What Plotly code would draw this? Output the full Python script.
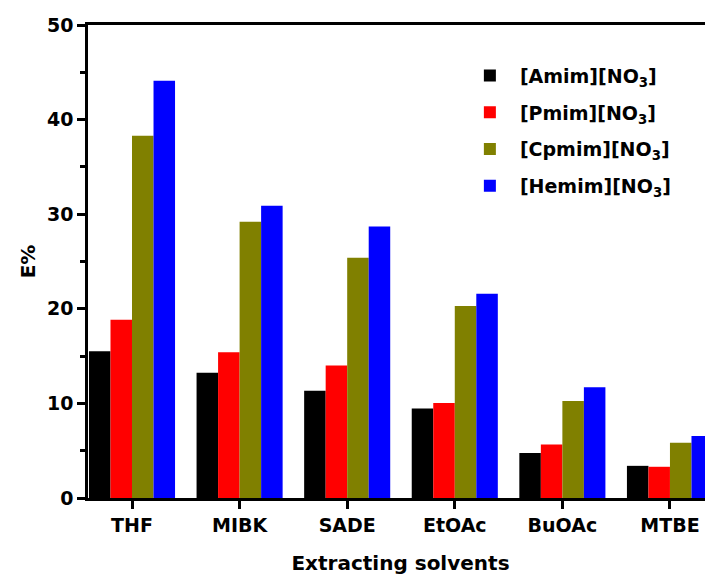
import plotly.graph_objects as go

solvents = ["THF", "MIBK", "SADE", "EtOAc", "BuOAc", "MTBE"]
series_names = ["[Amim][NO<sub>3</sub>]", "[Pmim][NO<sub>3</sub>]",
                "[Cpmim][NO<sub>3</sub>]", "[Hemim][NO<sub>3</sub>]"]
amim = [15.5, 13.25, 11.35, 9.45, 4.75, 3.4]
pmim = [18.85, 15.4, 14.0, 10.05, 5.65, 3.3]
cpmim = [38.3, 29.2, 25.4, 20.3, 10.25, 5.85]
hemim = [44.1, 30.9, 28.7, 21.6, 11.7, 6.55]
colors = ["#000000", "#FF0000", "#808000", "#0000FF"]
y_ticks = [0, 10, 20, 30, 40, 50]

font_family = "DejaVu Sans, Liberation Sans, Arial, sans-serif"

fig = go.Figure()
for i, (name, vals, col) in enumerate(zip(series_names, [amim, pmim, cpmim, hemim], colors)):
    fig.add_trace(go.Bar(x=solvents, y=vals, name=name, legendgroup="g%d" % i,
                         marker=dict(color=col, line=dict(width=0))))

# page body has an 8px default margin, so the figure is sized 705x571
fig.update_layout(
    width=705, height=571,
    margin=dict(l=80, r=0, t=17, b=81),
    paper_bgcolor="white", plot_bgcolor="white",
    barmode="group", bargap=0.2, bargroupgap=0,
    font=dict(family=font_family, color="black", size=19),
    legend=dict(x=0.595, y=0.933, xanchor="left", yanchor="top",
                font=dict(size=19, family=font_family, color="black", weight="bold"),
                itemwidth=50, tracegroupgap=9, bgcolor="rgba(0,0,0,0)"),
    showlegend=True,
)
fig.update_xaxes(
    range=[-0.409, 5.4], showline=True, linecolor="black", linewidth=2.5,
    mirror=True, ticks="outside", ticklen=8, tickwidth=2.5, tickcolor="black",
    tickfont=dict(size=19, family=font_family, weight="bold"),
    title=dict(text="Extracting solvents", standoff=22,
               font=dict(size=20, family=font_family, weight="bold")),
    showgrid=False, automargin=False,
)
fig.update_yaxes(
    range=[0, 50], tickvals=y_ticks, showline=True, linecolor="black", linewidth=2.5,
    mirror=False, ticks="outside", ticklen=8, tickwidth=2.5, tickcolor="black",
    minor=dict(dtick=5, ticks="outside", ticklen=5, tickwidth=2.5, tickcolor="black"),
    tickfont=dict(size=19, family=font_family, weight="bold"),
    title=dict(text="E%", standoff=6,
               font=dict(size=20, family=font_family, weight="bold")),
    showgrid=False, zeroline=False, automargin=True,
)

fig.write_html("out.html")
